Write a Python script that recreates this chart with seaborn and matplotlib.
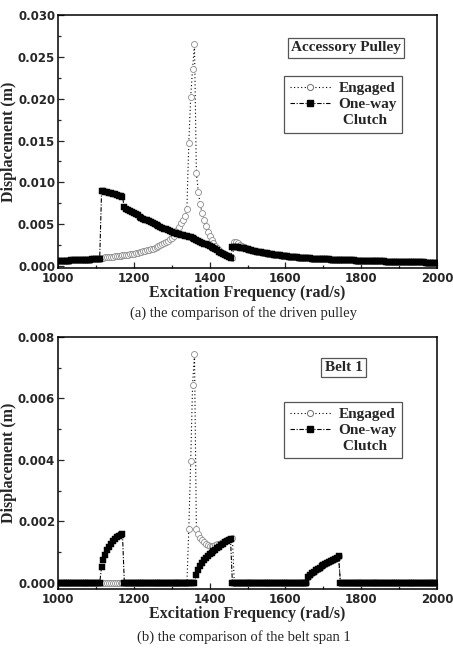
import numpy as np
import matplotlib
matplotlib.use('Agg')
import matplotlib.pyplot as plt
import seaborn as sns
from matplotlib.lines import Line2D
from matplotlib.ticker import MultipleLocator, FormatStrFormatter

# excitation frequency grid (rad/s)
freq = np.arange(1000, 2001, 5)

# ---- (a) accessory pulley displacement (m) ----
# 1000-1110, both cases identical
pulley_low = [0.00058, 0.00059, 0.00060, 0.00061, 0.00062, 0.00063, 0.00064, 0.00065, 0.00066, 0.00067,
              0.00068, 0.00069, 0.00070, 0.00071, 0.00072, 0.00073, 0.00075, 0.00076, 0.00078, 0.00080,
              0.00082, 0.00084, 0.00086]
# engaged 1115-1460
pulley_eng_mid = [0.00098, 0.00100, 0.00102, 0.00104, 0.00106, 0.00108, 0.00110, 0.00113, 0.00116, 0.00119,
                  0.00122, 0.00125, 0.00128, 0.00132, 0.00136, 0.00140, 0.00144, 0.00148, 0.00152, 0.00157,
                  0.00162, 0.00167, 0.00173, 0.00179, 0.00185, 0.00192, 0.00199, 0.00207, 0.00215, 0.00224,
                  0.00234, 0.00245, 0.00257, 0.00270, 0.00285, 0.00301, 0.00319, 0.00339, 0.00362, 0.00390,
                  0.00425, 0.00468, 0.00510, 0.00552, 0.00600, 0.00682, 0.01470, 0.02020, 0.02360, 0.02650,
                  0.01110, 0.00890, 0.00740, 0.00630, 0.00545, 0.00472, 0.00410, 0.00357, 0.00312, 0.00273,
                  0.00240, 0.00212, 0.00188, 0.00168, 0.00151, 0.00137, 0.00125, 0.00115, 0.00106, 0.00098]
# engaged 1465-1495
pulley_eng_jump = [0.00290, 0.00282, 0.00270, 0.00255, 0.00238, 0.00222, 0.00210]
# one-way clutch 1115-1495
pulley_owc_mid = [0.00900, 0.00893, 0.00887, 0.00880, 0.00875, 0.00868, 0.00862, 0.00856, 0.00850, 0.00842,
                  0.00835, 0.00828, 0.00700, 0.00686, 0.00672, 0.00658, 0.00644, 0.00630, 0.00617, 0.00604,
                  0.00591, 0.00579, 0.00567, 0.00555, 0.00544, 0.00533, 0.00522, 0.00511, 0.00500, 0.00489,
                  0.00478, 0.00467, 0.00456, 0.00446, 0.00436, 0.00426, 0.00416, 0.00406, 0.00398, 0.00391,
                  0.00385, 0.00379, 0.00373, 0.00367, 0.00361, 0.00355, 0.00349, 0.00342, 0.00333, 0.00323,
                  0.00312, 0.00301, 0.00290, 0.00279, 0.00268, 0.00257, 0.00246, 0.00235, 0.00223, 0.00211,
                  0.00198, 0.00185, 0.00171, 0.00157, 0.00143, 0.00130, 0.00118, 0.00108, 0.00100, 0.00230,
                  0.00228, 0.00225, 0.00221, 0.00217, 0.00213, 0.00209, 0.00205]
# 1500-2000, both cases identical
pulley_tail = [0.00200, 0.00194, 0.00188, 0.00182, 0.00177, 0.00172, 0.00167, 0.00162, 0.00157, 0.00153,
               0.00149, 0.00145, 0.00141, 0.00137, 0.00134, 0.00131, 0.00128, 0.00125, 0.00122, 0.00119,
               0.00116, 0.00113, 0.00111, 0.00108, 0.00106, 0.00104, 0.00102, 0.00100, 0.00098, 0.00096,
               0.00094, 0.00092, 0.00091, 0.00089, 0.00088, 0.00086, 0.00085, 0.00083, 0.00082, 0.00081,
               0.00080, 0.00079, 0.00078, 0.00077, 0.00076, 0.00075, 0.00074, 0.00073, 0.00072, 0.00071,
               0.00070, 0.00069, 0.00068, 0.00068, 0.00067, 0.00066, 0.00065, 0.00064, 0.00064, 0.00063,
               0.00062, 0.00061, 0.00060, 0.00059, 0.00058, 0.00058, 0.00057, 0.00056, 0.00055, 0.00055,
               0.00054, 0.00053, 0.00053, 0.00052, 0.00051, 0.00051, 0.00050, 0.00049, 0.00049, 0.00048,
               0.00047, 0.00047, 0.00046, 0.00046, 0.00045, 0.00045, 0.00044, 0.00044, 0.00043, 0.00043,
               0.00042, 0.00042, 0.00041, 0.00041, 0.00040, 0.00040, 0.00040, 0.00039, 0.00039, 0.00038,
               0.00038]

pulley_engaged = pulley_low + pulley_eng_mid + pulley_eng_jump + pulley_tail
pulley_oneway = pulley_low + pulley_owc_mid + pulley_tail

# ---- (b) belt span 1 displacement (m) ----
# engaged 1345-1460
belt_eng_peak = [0.00175, 0.00395, 0.00645, 0.00745, 0.00175, 0.00158, 0.00147, 0.00139, 0.00132, 0.00127,
                 0.00123, 0.00121, 0.00120, 0.00121, 0.00123, 0.00125, 0.00128, 0.00131, 0.00134, 0.00137,
                 0.00140, 0.00142, 0.00144, 0.00146]
# one-way clutch 1115-1170
belt_owc_arc1 = [0.00053, 0.00075, 0.00092, 0.00106, 0.00118, 0.00127, 0.00135, 0.00142, 0.00148, 0.00153,
                 0.00157, 0.00160]
# one-way clutch 1365-1455
belt_owc_arc2 = [0.00027, 0.00042, 0.00055, 0.00065, 0.00073, 0.00080, 0.00087, 0.00093, 0.00098, 0.00103,
                 0.00108, 0.00113, 0.00118, 0.00123, 0.00127, 0.00132, 0.00136, 0.00140, 0.00143]
# 1660-1740, both cases identical
belt_arc3 = [0.00018, 0.00025, 0.00031, 0.00037, 0.00042, 0.00046, 0.00050, 0.00054, 0.00057, 0.00061,
             0.00064, 0.00067, 0.00071, 0.00074, 0.00078, 0.00082, 0.00086]

belt_engaged = [0.0] * 69 + belt_eng_peak + [0.0] * 39 + belt_arc3 + [0.0] * 52
belt_oneway = ([0.0] * 23 + belt_owc_arc1 + [0.0] * 38 + belt_owc_arc2 + [0.0] * 40
               + belt_arc3 + [0.0] * 52)

sns.set_style('ticks')
plt.rcParams['font.family'] = ['DejaVu Sans']
plt.rcParams['font.weight'] = 'bold'

serif_b = dict(family='Liberation Serif', weight='bold')

fig = plt.figure(figsize=(4.53, 6.5), dpi=100)
ax_a = fig.add_axes([0.128, 0.5877, 0.837, 0.389])
ax_b = fig.add_axes([0.128, 0.0938, 0.837, 0.3877])


def draw_panel(ax, engaged, oneway, ylim, ymajor, tag):
    sns.lineplot(x=freq, y=engaged, ax=ax, color='black', linestyle=(0, (1, 2.2)), lw=0.8,
                 marker='o', ms=4.3, mfc='white', mec='#8c8c8c', mew=0.6, legend=False)
    sns.lineplot(x=freq, y=oneway, ax=ax, color='black', linestyle=(0, (4, 1.5, 1, 1.5)), lw=0.8,
                 marker='s', ms=3.9, mfc='black', mec='black', mew=0.3, legend=False)
    ax.set_xlim(1000, 2000)
    ax.set_ylim(*ylim)
    ax.xaxis.set_major_locator(MultipleLocator(200))
    ax.xaxis.set_minor_locator(MultipleLocator(100))
    ax.yaxis.set_major_locator(MultipleLocator(ymajor))
    ax.yaxis.set_minor_locator(MultipleLocator(ymajor / 2))
    ax.yaxis.set_major_formatter(FormatStrFormatter('%.3f'))
    ax.tick_params(which='both', direction='in', width=0.9, labelsize=8.5)
    ax.tick_params(which='major', length=4)
    ax.tick_params(which='minor', length=2.5)
    ax.tick_params(axis='y', pad=2)
    ax.tick_params(axis='x', pad=3)
    for sp in ax.spines.values():
        sp.set_linewidth(1.1)
        sp.set_color('black')
    ax.set_xlabel('Excitation Frequency (rad/s)', fontsize=11.5, labelpad=0, **serif_b)
    ax.set_ylabel('Displacement (m)', fontsize=11.5, labelpad=1, **serif_b)

    handles = [Line2D([], [], color='black', linestyle=(0, (1, 2.2)), lw=0.8, marker='o', ms=4.4,
                      mfc='white', mec='#6e6e6e', mew=0.7),
               Line2D([], [], color='black', linestyle=(0, (4, 1.5, 1, 1.5)), lw=0.8, marker='s',
                      ms=3.8, mfc='black', mec='black'),
               Line2D([], [], linestyle='none')]
    leg = ax.legend(handles, ['Engaged', 'One-way', ' Clutch'], loc='upper right',
                    bbox_to_anchor=tag['legend'], frameon=True, fancybox=False, framealpha=1,
                    edgecolor='#555555', numpoints=1, handlelength=2.7, handletextpad=0.5,
                    borderpad=0.35, labelspacing=0.15, borderaxespad=0,
                    prop=dict(family='Liberation Serif', weight='bold', size=11))
    leg.get_frame().set_linewidth(0.9)
    ax.text(tag['xy'][0], tag['xy'][1], tag['text'], transform=ax.transAxes, ha='center', va='center',
            fontsize=11, **serif_b,
            bbox=dict(boxstyle='square,pad=0.22', fc='white', ec='#555555', lw=0.9))


draw_panel(ax_a, pulley_engaged, pulley_oneway, (-0.00025, 0.030), 0.005,
           dict(text='Accessory Pulley', xy=(0.76, 0.871), legend=(0.908, 0.758)))
draw_panel(ax_b, belt_engaged, belt_oneway, (-0.0002, 0.008), 0.002,
           dict(text='Belt 1', xy=(0.753, 0.879), legend=(0.908, 0.742)))

fig.text(0.537, 1 - 313 / 650, '(a) the comparison of the driven pulley', ha='center', va='center',
         family='Liberation Serif', weight='normal', fontsize=10.5)
fig.text(0.539, 1 - 637 / 650, '(b) the comparison of the belt span 1', ha='center', va='center',
         family='Liberation Serif', weight='normal', fontsize=10.5)

fig.savefig('out.png', dpi=100)
